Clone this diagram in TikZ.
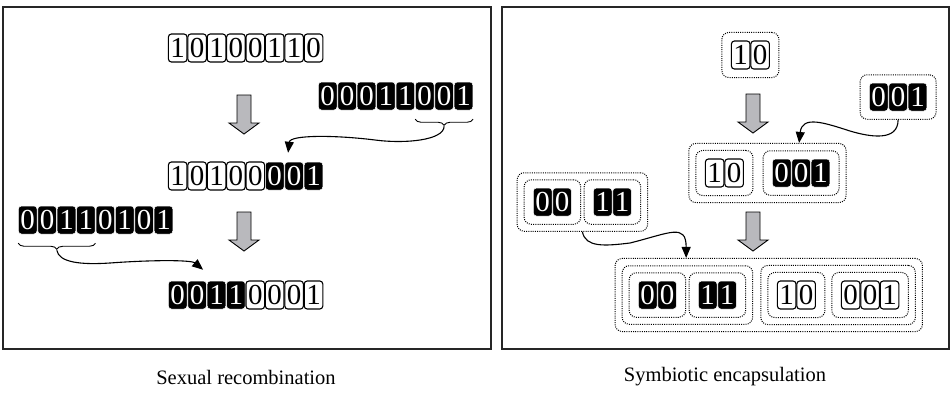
\documentclass[tikz,border=0pt]{standalone}
\usepackage{fontspec}
\setmainfont{Liberation Serif}
\usetikzlibrary{arrows.meta,fit,calc,decorations.pathreplacing}
\definecolor{arrowgray}{RGB}{185,185,189}
% a row of bit cells: name prefix, left edge, centre y, list of style/bit
\newcommand\bitrow[4]{%
  \foreach [count=\k] \s/\b in {#4} {%
    \node[\s] (#1c\k) at ({#2+9.7+(\k-1)*19.4},#3) {\b};}}
\begin{document}
\begin{tikzpicture}[x=1pt,y=-1pt,
  cell/.style={rectangle, rounded corners=3pt, minimum width=18.6pt,
    minimum height=28pt, inner sep=0pt, font=\fontsize{29}{29}\selectfont},
  wc/.style={cell, draw=black, line width=1.1pt, fill=white},
  bc/.style={cell, draw=white, line width=0.5pt, fill=black, text=white},
  grp/.style={draw, line width=1pt, dash pattern=on 1pt off 1.2pt,
    rounded corners=7pt, inner xsep=9pt, inner ysep=8pt},
  grp2/.style={grp, inner sep=6.5pt},
  conn/.style={line width=1.1pt, -{Triangle[length=11pt,width=9pt]}},
  brc/.style={decorate, decoration={brace, mirror, amplitude=6pt}, line width=0.9pt},
  panelframe/.style={line width=1.3pt, draw=black!85},
  lbl/.style={font=\fontsize{20.5}{24}\selectfont},
  garrow/.pic={\draw[fill=arrowgray, line width=0.9pt]
    (-7,0) -- (7,0) -- (7,28) -- (15,28) -- (0,39) -- (-15,28) -- (-7,28) -- cycle;}
]
\useasboundingbox (0,0) rectangle (952,397);

% panels
\draw[panelframe] (3,7) rectangle (491,349);
\draw[panelframe] (502,7) rectangle (949,349);

% ---------- sexual recombination ----------
\bitrow{La}{168}{48}{wc/1,wc/0,wc/1,wc/0,wc/0,wc/1,wc/1,wc/0}
\bitrow{Lb}{318}{96}{bc/0,bc/0,bc/0,bc/1,bc/1,bc/0,bc/0,bc/1}
\bitrow{Lc}{168}{176}{wc/1,wc/0,wc/1,wc/0,wc/0,bc/0,bc/0,bc/1}
\bitrow{Ld}{18}{220}{bc/0,bc/0,bc/1,bc/1,bc/0,bc/1,bc/0,bc/1}
\bitrow{Le}{168}{295}{bc/0,bc/0,bc/1,bc/1,wc/0,wc/0,wc/0,wc/1}

\pic at (244,95) {garrow};
\pic at (244,212) {garrow};

% donor segments
\coordinate (brAa) at ([yshift=-9pt]Lbc6.south west);
\coordinate (brAb) at ([yshift=-9pt]Lbc8.south east);
\draw[brc] (brAa) -- (brAb);
\coordinate (brAt) at ($(brAa)!0.5!(brAb)+(0,7)$);
\coordinate (tipA) at ([xshift=-6pt,yshift=9pt]Lcc7.north);
\draw[conn] (brAt) .. controls +(0,14) and +(30,4) .. (375,140)
  .. controls +(-40,-5) and +(2,-18) .. (tipA);

\coordinate (brBa) at ([yshift=-9pt]Ldc1.south west);
\coordinate (brBb) at ([yshift=-9pt]Ldc4.south east);
\draw[brc] (brBa) -- (brBb);
\coordinate (brBt) at ($(brBa)!0.5!(brBb)+(0,7)$);
\coordinate (tipB) at ([xshift=6pt,yshift=11pt]Lec2.north);
\draw[conn] (brBt) .. controls +(2,12) and +(-30,2) .. (110,263)
  .. controls +(40,-3) and +(-12,-10) .. (tipB);

% ---------- symbiotic encapsulation ----------
\bitrow{Ta}{731}{55}{wc/1,wc/0}
\node[grp, fit=(Tac1)(Tac2)] (Tg10) {};
\bitrow{Tb}{869}{97}{bc/0,bc/0,bc/1}
\node[grp, fit=(Tbc1)(Tbc3)] (Tg001) {};

\bitrow{Ma}{705}{173}{wc/1,wc/0}
\bitrow{Mb}{772}{173}{bc/0,bc/0,bc/1}
\node[grp, fit=(Mac1)(Mac2)] (Mg10) {};
\node[grp, fit=(Mbc1)(Mbc3)] (Mg001) {};
\node[grp2, fit=(Mg10)(Mg001)] (Mg) {};

\bitrow{Pa}{533}{202}{bc/0,bc/0}
\bitrow{Pb}{593}{202}{bc/1,bc/1}
\node[grp, fit=(Pac1)(Pac2)] (Pg00) {};
\node[grp, fit=(Pbc1)(Pbc2)] (Pg11) {};
\node[grp2, fit=(Pg00)(Pg11)] (Pg) {};

\bitrow{Ba}{638}{295}{bc/0,bc/0}
\bitrow{Bb}{698}{295}{bc/1,bc/1}
\bitrow{Bc}{777}{295}{wc/1,wc/0}
\bitrow{Bd}{841}{295}{wc/0,wc/0,wc/1}
\node[grp, fit=(Bac1)(Bac2)] (Bg00) {};
\node[grp, fit=(Bbc1)(Bbc2)] (Bg11) {};
\node[grp, fit=(Bcc1)(Bcc2)] (Bg10) {};
\node[grp, fit=(Bdc1)(Bdc3)] (Bg001) {};
\node[grp2, fit=(Bg00)(Bg11)] (BgL) {};
\node[grp2, fit=(Bg10)(Bg001)] (BgR) {};
\node[grp2, fit=(BgL)(BgR)] (Bg) {};

\pic at (753,94) {garrow};
\pic at (753,212) {garrow};

\coordinate (tipC) at ($(Mg.north west)!0.7!(Mg.north east)$);
\draw[conn] (Tg001.south) .. controls +(0,22) and +(20,6) .. (850,131)
  .. controls +(-25,-8) and +(3,-28) .. (tipC);

\coordinate (tipD) at (Bg.north -| Bg00.east);
\draw[conn] (Pg.south) .. controls +(3,16) and +(-25,3) .. (630,243)
  .. controls +(40,-10) and +(0,-35) .. (tipD);

% captions
\node[lbl] (capL) at (246,377) {Sexual recombination};
\node[lbl] (capR) at (725,377) {Symbiotic encapsulation};
\end{tikzpicture}
\end{document}
